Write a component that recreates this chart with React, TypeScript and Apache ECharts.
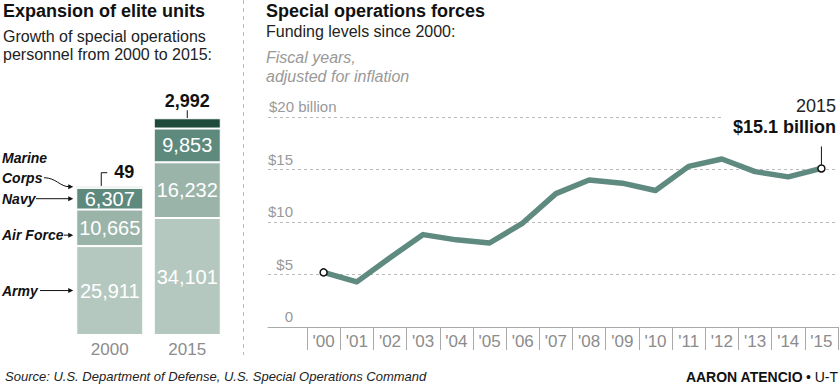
import React, { useEffect, useRef } from 'react';
import * as echarts from 'echarts';

// ---- Data: personnel (left panel) ----
const barYears = ['2000', '2015'];
const army = [25911, 34101];
const airForce = [10665, 16232];
const navy = [6307, 9853];
const marines = [49, 2992];

// ---- Data: funding (right panel), $ billions ----
const fundYears = ["'00", "'01", "'02", "'03", "'04", "'05", "'06", "'07", "'08", "'09", "'10", "'11", "'12", "'13", "'14", "'15"];
const funding = [5.2, 4.3, 6.6, 8.8, 8.3, 8.0, 9.9, 12.7, 14.0, 13.7, 13.0, 15.3, 16.0, 14.8, 14.3, 15.1];
const yMin = 0;
const yMax = 20;
const yInterval = 5;

const SANS = '"Liberation Sans", Arial, sans-serif';
const NARROW = '"Liberation Sans Narrow", "Liberation Sans", Arial, sans-serif';

const C_ARMY = '#b4c8c0';
const C_AF = '#9ab4aa';
const C_NAVY = '#5e8a7e';
const C_MAR = '#1d4a3a';
const C_LINE = '#5f8a7f';

const fmt = (v: number) => v.toLocaleString('en-US');

export default function App() {
  const ref = useRef<HTMLDivElement>(null);

  useEffect(() => {
    if (!ref.current) return;
    const chart = echarts.init(ref.current, undefined, { renderer: 'svg' });

    const inBarLabel = {
      show: true,
      position: 'inside',
      color: '#fff',
      fontSize: 20,
      fontFamily: NARROW,
      formatter: (p: any) => fmt(p.value as number),
    };

    const option: any = {
      animation: false,
      grid: [
        { left: 71, width: 155, top: 112, bottom: 51 },
        { left: 268, right: 2, top: 117, bottom: 59 },
        { left: 307, right: 2, top: 117, bottom: 59 },
      ],
      xAxis: [
        {
          gridIndex: 0, type: 'category', data: barYears,
          axisLine: { show: false }, axisTick: { show: false },
          axisLabel: { color: '#8c8c8c', fontSize: 17, margin: 6, fontFamily: SANS },
        },
        {
          gridIndex: 1, type: 'category', data: [''],
          axisLine: { show: true, lineStyle: { color: '#aaa', width: 1 } },
          axisTick: { show: false }, axisLabel: { show: false },
        },
        {
          gridIndex: 2, type: 'category', data: fundYears, boundaryGap: true,
          axisLine: { show: false },
          axisTick: { show: true, interval: 0, length: 23, lineStyle: { color: '#aaa' } },
          axisLabel: { interval: 0, color: '#8c8c8c', fontSize: 17, margin: 6, fontFamily: SANS },
        },
      ],
      yAxis: [
        { gridIndex: 0, type: 'value', min: 0, max: 65000, show: false },
        {
          gridIndex: 1, type: 'value', min: yMin, max: yMax, interval: yInterval,
          axisLine: { show: false }, axisTick: { show: false },
          splitLine: { show: true, lineStyle: { color: '#bbb', type: [3, 3], width: 1 } },
          axisLabel: {
            inside: true, margin: 1, verticalAlign: 'bottom', align: 'left',
            padding: [0, 0, 3, 0],
            formatter: (v: number) => (v === yMax ? `{l|$${v} billion}` : v === 0 ? `{r|0}` : `{r|$${v}}`),
            rich: {
              l: { color: '#999', fontSize: 15, fontFamily: SANS },
              r: { color: '#999', fontSize: 15, fontFamily: SANS, width: 24, align: 'right' },
            },
          },
        },
        { gridIndex: 2, type: 'value', min: yMin, max: yMax, interval: yInterval, show: false },
      ],
      series: [
        {
          type: 'bar', name: 'Army', xAxisIndex: 0, yAxisIndex: 0, stack: 'p', barWidth: 67,
          data: army, itemStyle: { color: C_ARMY, borderColor: '#fff', borderWidth: 1 }, label: inBarLabel,
        },
        {
          type: 'bar', name: 'Air Force', xAxisIndex: 0, yAxisIndex: 0, stack: 'p', barWidth: 67,
          data: airForce, itemStyle: { color: C_AF, borderColor: '#fff', borderWidth: 1 }, label: inBarLabel,
        },
        {
          type: 'bar', name: 'Navy', xAxisIndex: 0, yAxisIndex: 0, stack: 'p', barWidth: 67,
          data: navy, itemStyle: { color: C_NAVY, borderColor: '#fff', borderWidth: 1 }, label: inBarLabel,
        },
        {
          type: 'bar', name: 'Marine Corps', xAxisIndex: 0, yAxisIndex: 0, stack: 'p', barWidth: 67,
          barMinHeight: 2,
          data: marines.map((v, i) => ({
            value: v,
            label: i === 0
              ? { show: true, position: [38, -14], align: 'left', verticalAlign: 'middle' }
              : { show: true, position: 'top', distance: 8 },
          })),
          itemStyle: { color: C_MAR, borderColor: '#fff', borderWidth: 1 },
          label: {
            show: true, color: '#111', fontSize: 18, fontWeight: 'bold', fontFamily: SANS,
            formatter: (p: any) => fmt(p.value as number),
          },
        },
        {
          type: 'line', name: 'Funding', xAxisIndex: 2, yAxisIndex: 2,
          data: funding.map((v, i) => (i === 0 || i === funding.length - 1
            ? { value: v, symbol: 'circle', symbolSize: 7 }
            : { value: v, symbol: 'none' })),
          lineStyle: { color: C_LINE, width: 5.5, join: 'round' },
          itemStyle: { color: '#fff', borderColor: '#111', borderWidth: 1.5 },
          z: 5,
        },
      ],
    };

    chart.setOption(option);

    // ---- annotations positioned through the library's scales ----
    const bp = (cat: string, v: number) => chart.convertToPixel({ xAxisIndex: 0, yAxisIndex: 0 }, [cat, v]) as number[];
    const lp = (i: number, v: number) => chart.convertToPixel({ xAxisIndex: 2, yAxisIndex: 2 }, [i, v]) as number[];

    const total2000 = army[0] + airForce[0] + navy[0] + marines[0];
    const total2015 = army[1] + airForce[1] + navy[1] + marines[1];
    const barLeft = bp('2000', 0)[0] - 33.5;
    const yArmy = bp('2000', army[0] / 2)[1];
    const yAF = bp('2000', army[0] + airForce[0] * 0.3)[1];
    const yNavy = bp('2000', army[0] + airForce[0] + navy[0] / 2)[1];
    const yTop2000 = bp('2000', total2000)[1];
    const yMar = yTop2000 - 1;
    const top2015 = bp('2015', total2015);

    const arrowTip = barLeft - 3;
    const black = '#111';
    const arrow = (x1: number, y: number) => [
      { type: 'line', shape: { x1, y1: y, x2: arrowTip - 4, y2: y }, style: { stroke: black, lineWidth: 1 } },
      { type: 'polygon', shape: { points: [[arrowTip, y], [arrowTip - 5, y - 2.5], [arrowTip - 5, y + 2.5]] }, style: { fill: black } },
    ];
    const sideLabel = (text: string, y: number) => ({
      type: 'text', x: 2, y,
      style: { text, fill: black, font: `italic bold 14px ${SANS}`, textAlign: 'left', textVerticalAlign: 'middle' },
    });

    const last = funding.length - 1;
    const pLast = lp(last, funding[last]);
    const pTop = lp(last, yMax);

    const graphics: any[] = [
      // titles
      { type: 'text', x: 3, y: 11, style: { text: 'Expansion of elite units', fill: '#111', font: `bold 18px ${SANS}`, textVerticalAlign: 'middle' } },
      { type: 'text', x: 3, y: 36, style: { text: 'Growth of special operations', fill: '#222', font: `16px ${SANS}`, textVerticalAlign: 'middle' } },
      { type: 'text', x: 3, y: 54.5, style: { text: 'personnel from 2000 to 2015:', fill: '#222', font: `16px ${SANS}`, textVerticalAlign: 'middle' } },
      { type: 'text', x: 266, y: 11, style: { text: 'Special operations forces', fill: '#111', font: `bold 18px ${SANS}`, textVerticalAlign: 'middle' } },
      { type: 'text', x: 266, y: 31, style: { text: 'Funding levels since 2000:', fill: '#222', font: `16px ${SANS}`, textVerticalAlign: 'middle' } },
      { type: 'text', x: 266, y: 57.5, style: { text: 'Fiscal years,', fill: '#999', font: `italic 16px ${SANS}`, textVerticalAlign: 'middle' } },
      { type: 'text', x: 266, y: 76.5, style: { text: 'adjusted for inflation', fill: '#999', font: `italic 16px ${SANS}`, textVerticalAlign: 'middle' } },
      // separator
      { type: 'line', shape: { x1: 243.5, y1: 0, x2: 243.5, y2: 355 }, style: { stroke: '#bbb', lineWidth: 1, lineDash: [4, 4] } },
      // footer
      { type: 'text', x: 5, y: 376.5, style: { text: 'Source: U.S. Department of Defense, U.S. Special Operations Command', fill: '#222', font: `italic 13px ${SANS}`, textVerticalAlign: 'middle' } },
      {
        type: 'text', x: 838, y: 376.5,
        style: {
          text: '{b|AARON ATENCIO} {n|• U-T}', textAlign: 'right', textVerticalAlign: 'middle',
          rich: { b: { fill: '#111', font: `bold 14px ${SANS}` }, n: { fill: '#111', font: `14px ${SANS}` } },
        },
      },
      // side labels + arrows
      sideLabel('Army', yArmy), ...arrow(40, yArmy),
      sideLabel('Air Force', yAF), ...arrow(64, yAF),
      sideLabel('Navy', yNavy), ...arrow(36, yNavy),
      sideLabel('Marine', yMar - 29), sideLabel('Corps', yMar - 9),
      { type: 'bezierCurve', shape: { x1: 44, y1: yMar - 9, cpx1: 56, cpy1: yMar - 9, cpx2: 60, cpy2: yMar, x2: arrowTip - 4, y2: yMar }, style: { stroke: black, lineWidth: 1, fill: 'none' } },
      { type: 'polygon', shape: { points: [[arrowTip, yMar], [arrowTip - 5, yMar - 2.5], [arrowTip - 5, yMar + 2.5]] }, style: { fill: black } },
      // leader for 49
      { type: 'polyline', shape: { points: [[barLeft + 25, yTop2000 - 1], [barLeft + 25, yTop2000 - 15], [barLeft + 31, yTop2000 - 15]] }, style: { stroke: black, lineWidth: 1, fill: 'none' } },
      // leader for 2,992
      { type: 'line', shape: { x1: top2015[0], y1: top2015[1] - 8, x2: top2015[0], y2: top2015[1] }, style: { stroke: black, lineWidth: 1 } },
      // cover part of $20 gridline behind the annotation
      { type: 'rect', z: 100, shape: { x: 722, y: pTop[1] - 3, width: 118, height: 6 }, style: { fill: '#fff' } },
      // 2015 annotation
      { type: 'line', z: 101, shape: { x1: pLast[0], y1: pLast[1] - 22, x2: pLast[0], y2: pLast[1] - 3.5 }, style: { stroke: black, lineWidth: 1 } },
      { type: 'text', z: 101, x: 836, y: pLast[1] - 62, style: { text: String(2015), fill: '#222', font: `18px ${SANS}`, textAlign: 'right', textVerticalAlign: 'middle' } },
      { type: 'text', z: 101, x: 836, y: pLast[1] - 41, style: { text: `$${funding[last]} billion`, fill: '#111', font: `bold 18px ${SANS}`, textAlign: 'right', textVerticalAlign: 'middle' } },
    ];

    chart.setOption({ graphic: graphics });

    return () => chart.dispose();
  }, []);

  return (
    <div
      ref={ref}
      style={{ position: 'fixed', left: 0, top: 0, width: 840, height: 386, background: '#fff' }}
    />
  );
}
